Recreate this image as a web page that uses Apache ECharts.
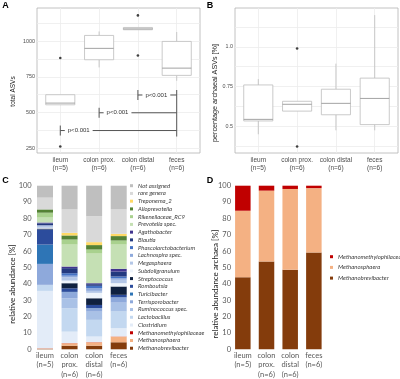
<!DOCTYPE html>
<html>
<head>
<meta charset="utf-8">
<title>ASVs and relative abundance</title>
<script src="https://cdn.jsdelivr.net/npm/echarts@6/dist/echarts.min.js"></script>
<style>
  html, body { margin: 0; padding: 0; background: #fff; }
  #chart { width: 400px; height: 379px; }
</style>
</head>
<body>
<div id="chart"></div>
<script>
// A / B: boxplots per gut section
const boxCategories = ['ileum\n(n=5)', 'colon prox.\n(n=6)', 'colon distal\n(n=6)', 'feces\n(n=6)'];

// [lower whisker, q1, median, q3, upper whisker]
const asvBoxes = [
  [554, 554, 566, 625, 625],
  [817, 871, 951, 1042, 1070],
  [1082, 1082, 1088, 1098, 1098],
  [723, 761, 812, 1000, 1066]
];
const asvOutliers = [[1, 883], [1, 261], [3, 1183], [3, 901]];
// [from category, to category, y]
const asvSignif = [[3, 4, 623], [2, 4, 498], [1, 4, 373]];
const asvTickLabels = [250, 500, 750, 1000];
const asvGridValues = [250, 375, 500, 625, 750, 875, 1000, 1125];

const archBoxes = [
  [0.449, 0.533, 0.543, 0.76, 0.797],
  [0.595, 0.595, 0.638, 0.657, 0.657],
  [0.474, 0.572, 0.644, 0.733, 0.894],
  [0.474, 0.51, 0.675, 0.803, 1.2]
];
const archOutliers = [[2, 0.99], [2, 0.372]];
const archTickLabels = [0.5, 0.75, 1.0];
const archGridValues = [0.375, 0.5, 0.625, 0.75, 0.875, 1.0, 1.125];

// C / D: stacked bars
const barCategories = ['ileum\n(n=5)', 'colon\nprox.\n(n=6)', 'colon\ndistal\n(n=6)', 'feces\n(n=6)'];

// stacked from the bottom up, values per category (ileum, colon prox., colon distal, feces)
const genera = [
  'Methanobrevibacter', 'Methanosphaera', 'Methanomethylophilaceae', 'Clostridium',
  'Lactobacillus', 'Ruminococcus spec.', 'Terrisporobacter', 'Turicibacter',
  'Romboutsia', 'Streptococcus', 'Subdoligranulum', 'Megasphaera',
  'Lachnospira spec.', 'Phascolarctobacterium', 'Blautia', 'Agathobacter',
  'Prevotella spec.', 'Rikenellaceae_RC9', 'Alloprevotella', 'Treponema_2',
  'rare genera', 'Not assigned'
];
const genusAbundance = [
  [0.3, 2.2, 2.2, 4.3],
  [0.2, 1.5, 2.1, 3.5],
  [0.1, 0.1, 0.1, 0.1],
  [35.1, 7.0, 3.4, 5.0],
  [3.7, 14.3, 10.2, 10.2],
  [0, 6.1, 5.0, 5.4],
  [12.8, 3.7, 2.1, 3.2],
  [11.8, 0.2, 0.1, 0.1],
  [9.3, 2.2, 1.9, 1.5],
  [0.5, 3.1, 4.1, 5.1],
  [0.5, 1.6, 3.3, 2.0],
  [1.5, 2.0, 1.2, 2.1],
  [0, 1.0, 1.6, 1.0],
  [0, 1.5, 1.5, 1.0],
  [1.2, 3.1, 1.0, 3.0],
  [0.5, 1.0, 0.6, 1.7],
  [3.0, 13.4, 18.1, 14.8],
  [3.0, 3.1, 2.5, 2.5],
  [2.0, 2.5, 2.7, 2.7],
  [0, 1.6, 1.8, 1.4],
  [7.2, 14.3, 15.9, 14.9],
  [7.3, 14.5, 18.6, 14.5]
];

const archaea = ['Methanobrevibacter', 'Methanosphaera', 'Methanomethylophilaceae'];
const archaeaAbundance = [
  [44.1, 53.6, 48.6, 59.2],
  [40.6, 43.4, 49.4, 39.3],
  [15.3, 3.0, 2.0, 1.5]
];

const percentTicks = [0, 10, 20, 30, 40, 50, 60, 70, 80, 90, 100];

// colours
const genusColors = {
  'Methanobrevibacter': '#843c0c',
  'Methanosphaera': '#f4b183',
  'Methanomethylophilaceae': '#c00000',
  'Clostridium': '#e3ecf8',
  'Lactobacillus': '#c3d8f0',
  'Ruminococcus spec.': '#a9c1e6',
  'Terrisporobacter': '#8ea9db',
  'Turicibacter': '#2e75b6',
  'Romboutsia': '#2c4c9c',
  'Streptococcus': '#10213f',
  'Subdoligranulum': '#eef4fb',
  'Megasphaera': '#b4c7e7',
  'Lachnospira spec.': '#8faadc',
  'Phascolarctobacterium': '#4472c4',
  'Blautia': '#23397f',
  'Agathobacter': '#41348f',
  'Prevotella spec.': '#c5e0b4',
  'Rikenellaceae_RC9': '#a9d18e',
  'Alloprevotella': '#548235',
  'Treponema_2': '#ffd966',
  'rare genera': '#d9d9d9',
  'Not assigned': '#bfbfbf'
};

const ggFont = 'Liberation Sans';
const xlFont = 'Lato';
const boxColor = '#bdbdbd';
const medianColor = '#8c8c8c';
const gridLineColor = '#ececec';

function renderBox(params, api) {
  const x = api.value(0);
  const half = api.size([0.375, 0])[0];
  const p = [1, 2, 3, 4, 5].map(function (d) { return api.coord([x, api.value(d)]); });
  const cx = p[0][0];
  function seg(x1, y1, x2, y2, color) {
    return { type: 'line', shape: { x1: x1, y1: y1, x2: x2, y2: y2 }, style: { stroke: color, lineWidth: 0.8 } };
  }
  return {
    type: 'group',
    children: [
      seg(cx, p[0][1], cx, p[1][1], boxColor),
      seg(cx, p[3][1], cx, p[4][1], boxColor),
      {
        type: 'rect',
        shape: { x: cx - half, y: p[3][1], width: half * 2, height: p[1][1] - p[3][1] },
        style: { fill: '#fff', stroke: boxColor, lineWidth: 0.8 }
      },
      seg(cx - half, p[2][1], cx + half, p[2][1], medianColor)
    ]
  };
}

function renderSignif(params, api) {
  const y = api.value(2);
  const a = api.coord([api.value(0), y]);
  const b = api.coord([api.value(1), y]);
  const st = { stroke: '#555', lineWidth: 1 };
  const children = [
    { type: 'line', shape: { x1: a[0], y1: a[1], x2: b[0], y2: b[1] }, style: st },
    { type: 'line', shape: { x1: a[0], y1: a[1] - 5, x2: a[0], y2: a[1] + 5 }, style: st },
    {
      type: 'text', x: a[0] + 4.5, y: a[1],
      style: {
        text: 'p<0.001', fill: '#333', fontSize: 6, fontFamily: ggFont,
        align: 'left', verticalAlign: 'middle', textAlign: 'left', textVerticalAlign: 'middle',
        backgroundColor: '#fff', padding: [1, 3]
      }
    }
  ];
  if (params.dataIndex === 0) {
    const last = asvSignif[asvSignif.length - 1];
    const bottom = api.coord([last[1], last[2]]);
    children.push({ type: 'line', shape: { x1: b[0], y1: b[1] - 5, x2: b[0], y2: bottom[1] + 6 }, style: st });
  }
  return { type: 'group', children: children };
}

function boxXAxis(gridIndex) {
  return {
    gridIndex: gridIndex, type: 'value', min: 0.4, max: 4.6,
    axisLine: { show: false },
    axisTick: { show: false, customValues: [1, 2, 3, 4] },
    axisLabel: {
      customValues: [1, 2, 3, 4],
      formatter: function (v) { return boxCategories[Math.round(v) - 1]; },
      fontFamily: ggFont, fontSize: 6.5, lineHeight: 8, color: '#4d4d4d', margin: 3
    },
    splitLine: { show: true, lineStyle: { color: gridLineColor, width: 0.8 } }
  };
}

function boxYAxis(gridIndex, min, max, labels, lines, fmt) {
  return {
    gridIndex: gridIndex, type: 'value', min: min, max: max,
    axisLine: { show: false },
    axisTick: { show: false, customValues: lines },
    axisLabel: {
      customValues: labels, formatter: fmt,
      fontFamily: ggFont, fontSize: 5.4, color: '#4d4d4d', margin: 2
    },
    splitLine: { show: true, lineStyle: { color: gridLineColor, width: 0.8 } }
  };
}

function barXAxis(gridIndex) {
  return {
    gridIndex: gridIndex, type: 'category', data: barCategories,
    axisLine: { show: false }, axisTick: { show: false },
    axisLabel: { interval: 0, fontFamily: xlFont, fontSize: 7.5, lineHeight: 9.6, color: '#595959', margin: 1 }
  };
}

function barYAxis(gridIndex, margin) {
  return {
    gridIndex: gridIndex, type: 'value', min: 0, max: 100, interval: 10,
    axisLine: { show: false }, axisTick: { show: false },
    axisLabel: { fontFamily: xlFont, fontSize: 7.5, color: '#595959', margin: margin },
    splitLine: { show: false }
  };
}

function sideTitle(text, x, y, size, family) {
  return {
    type: 'text', x: x, y: y, rotation: Math.PI / 2,
    style: {
      text: text, fill: '#222', fontSize: size, fontFamily: family,
      align: 'center', verticalAlign: 'middle', textAlign: 'center', textVerticalAlign: 'middle'
    }
  };
}

function panelLetter(text, x, y) {
  return {
    type: 'text', x: x, y: y,
    style: {
      text: text, fill: '#000', fontSize: 9, fontWeight: 'bold', fontFamily: ggFont,
      align: 'center', verticalAlign: 'middle', textAlign: 'center', textVerticalAlign: 'middle'
    }
  };
}

const chart = echarts.init(document.getElementById('chart'), null, { renderer: 'canvas' });

const series = [
  {
    type: 'custom', name: 'ASVs', xAxisIndex: 0, yAxisIndex: 0,
    renderItem: renderBox,
    encode: { x: 0, y: [1, 2, 3, 4, 5] },
    data: asvBoxes.map(function (b, i) { return [i + 1].concat(b); })
  },
  {
    type: 'scatter', xAxisIndex: 0, yAxisIndex: 0, symbolSize: 2.6,
    itemStyle: { color: '#111' }, data: asvOutliers
  },
  {
    type: 'custom', xAxisIndex: 0, yAxisIndex: 0, z: 5,
    renderItem: renderSignif,
    encode: { x: [0, 1], y: 2 },
    data: asvSignif
  },
  {
    type: 'custom', name: 'archaeal', xAxisIndex: 1, yAxisIndex: 1,
    renderItem: renderBox,
    encode: { x: 0, y: [1, 2, 3, 4, 5] },
    data: archBoxes.map(function (b, i) { return [i + 1].concat(b); })
  },
  {
    type: 'scatter', xAxisIndex: 1, yAxisIndex: 1, symbolSize: 2.6,
    itemStyle: { color: '#111' }, data: archOutliers
  }
];

genera.forEach(function (g, i) {
  series.push({
    type: 'bar', name: g, stack: 'genus', xAxisIndex: 2, yAxisIndex: 2,
    barWidth: 16, itemStyle: { color: genusColors[g] },
    data: genusAbundance[i]
  });
});

archaea.forEach(function (g, i) {
  series.push({
    type: 'bar', name: g, stack: 'archaea', xAxisIndex: 3, yAxisIndex: 3,
    barWidth: 15.5, itemStyle: { color: genusColors[g] },
    data: archaeaAbundance[i]
  });
});

const legendText = { fontFamily: xlFont, fontSize: 6, lineHeight: 7, fontStyle: 'italic', color: '#404040' };

chart.setOption({
  animation: false,
  backgroundColor: '#fff',
  grid: [
    { left: 37, top: 8, width: 163, height: 145, show: true, borderColor: '#b3b3b3', borderWidth: 0.8, containLabel: false, outerBoundsMode: 'none' },
    { left: 235, top: 8, width: 163, height: 145, show: true, borderColor: '#b3b3b3', borderWidth: 0.8, containLabel: false, outerBoundsMode: 'none' },
    { left: 32.7, top: 185.7, width: 98.3, height: 163.6, containLabel: false, outerBoundsMode: 'none' },
    { left: 231, top: 185.7, width: 94.7, height: 163.6, containLabel: false, outerBoundsMode: 'none' }
  ],
  xAxis: [boxXAxis(0), boxXAxis(1), barXAxis(2), barXAxis(3)],
  yAxis: [
    boxYAxis(0, 215, 1235, asvTickLabels, asvGridValues, function (v) { return String(v); }),
    boxYAxis(1, 0.331, 1.245, archTickLabels, archGridValues, function (v) { return v === 1 ? '1.0' : String(v); }),
    barYAxis(2, 1),
    barYAxis(3, 0)
  ],
  legend: [
    {
      orient: 'vertical', left: 130, top: 182.2, padding: 0,
      itemWidth: 3, itemHeight: 3, itemGap: 0.74, icon: 'rect',
      textStyle: legendText, selectedMode: false,
      data: genera.slice().reverse()
    },
    {
      orient: 'vertical', left: 330, top: 253.2, padding: 0,
      itemWidth: 3, itemHeight: 3, itemGap: 3.7, icon: 'rect',
      textStyle: legendText, selectedMode: false,
      data: archaea.slice().reverse()
    }
  ],
  graphic: [
    panelLetter('A', 5.5, 6),
    panelLetter('B', 210, 6),
    panelLetter('C', 5.5, 180.5),
    panelLetter('D', 210, 180.5),
    sideTitle('total ASVs', 13, 91.5, 6.5, ggFont),
    sideTitle('percentage archaeal ASVs [%]', 215, 93, 7.2, ggFont),
    sideTitle('relative abundance [%]', 12.5, 284, 8, xlFont),
    sideTitle('relative abundance archaea [%]', 215, 284, 8, xlFont)
  ],
  series: series
});
</script>
</body>
</html>
